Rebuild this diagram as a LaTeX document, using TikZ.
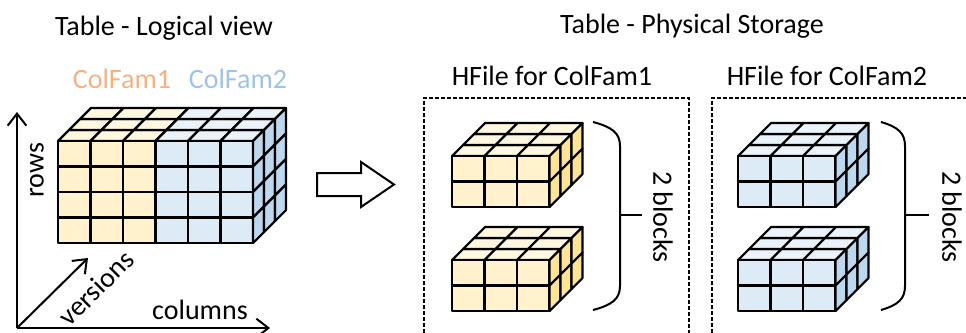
\documentclass[tikz,border=0pt]{standalone}
\usepackage{fontspec}
\setmainfont{Carlito}
\usetikzlibrary{arrows.meta}

\definecolor{yfront}{RGB}{255,242,204}
\definecolor{ytop}{RGB}{255,247,224}
\definecolor{yside}{RGB}{255,228,150}
\definecolor{bfront}{RGB}{221,235,247}
\definecolor{btop}{RGB}{234,242,250}
\definecolor{bside}{RGB}{189,215,238}
\definecolor{famorange}{RGB}{244,177,131}
\definecolor{famblue}{RGB}{157,195,230}

\tikzset{
  cellline/.style={line width=1.6pt, line join=round},
  lbl/.style={font=\fontsize{21}{25}\selectfont, inner sep=0.75pt},
  axisline/.style={line width=1.5pt, -{Straight Barb[length=9pt,width=14pt,line width=1.5pt]}},
  hfilebox/.style={line width=1.2pt, dash pattern=on 3pt off 1.5pt},
  bracket/.style={line width=1.5pt},
}

% block of cells: #1,#2 front top-left, #3 columns, #4 rows, #5 front, #6 top, #7 side
\newcommand{\cellblock}[7]{%
  % top faces
  \foreach \i in {1,...,#3} {
    \foreach \k in {1,2,3} {
      \draw[cellline, fill=#6] ({#1+(\i-1)*32.5+(\k-1)*11},{#2-(\k-1)*11}) -- ++(32.5,0) -- ++(11,-11) -- ++(-32.5,0) -- cycle;
    }
  }
  % front faces
  \foreach \i in {1,...,#3} {
    \foreach \j in {1,...,#4} {
      \draw[cellline, fill=#5] ({#1+(\i-1)*32.5},{#2+(\j-1)*25.5}) rectangle ++(32.5,25.5);
    }
  }
  % side faces
  \foreach \k in {1,2,3} {
    \foreach \j in {1,...,#4} {
      \draw[cellline, fill=#7] ({#1+#3*32.5+(\k-1)*11},{#2+(\j-1)*25.5-(\k-1)*11}) -- ++(11,-11) -- ++(0,25.5) -- ++(-11,11) -- cycle;
    }
  }
}

\begin{document}
\begin{tikzpicture}[x=0.75pt,y=0.75pt,yscale=-1,xscale=1]
 \useasboundingbox (0,0) rectangle (966,332);

 % Logical view
 \node[lbl, anchor=base] (logtitle) at (164,35) {Table - Logical view};
 \node[lbl, anchor=base, text=famorange] (fam1) at (122,88) {ColFam1};
 \node[lbl, anchor=base, text=famblue] (fam2) at (238,88) {ColFam2};

 \cellblock{58}{141}{3}{4}{yfront}{ytop}{yside}
 \cellblock{155.5}{141}{3}{4}{bfront}{btop}{bside}

 % axes
 \coordinate (origin) at (17,328);
 \coordinate (rowsend) at (17,112);
 \coordinate (colsend) at (270,328);
 \coordinate (versend) at (88,258);
 \draw[axisline] (origin) -- (rowsend);
 \draw[axisline] (origin) -- (colsend);
 \draw[axisline] (origin) -- (versend);
 \node[lbl, rotate=90] (rows) at (37,170) {rows};
 \node[lbl, rotate=45] (versions) at (96,288) {versions};
 \node[lbl, anchor=base] (columns) at (200,319) {columns};

 % Block arrow
 \draw[line width=1.5pt, line join=miter, fill=white] (317,173) -- (361,173) -- (361,162) -- (394,184.5) -- (361,207) -- (361,196) -- (317,196) -- cycle;

 % Physical storage
 \node[lbl, anchor=base] (phystitle) at (692,33) {Table - Physical Storage};
 \node[lbl, anchor=base] (hfile1) at (552,85) {HFile for ColFam1};
 \node[lbl, anchor=base] (hfile2) at (827,85) {HFile for ColFam2};

 \draw[hfilebox] (424,345) -- (424,98) -- (689,98) -- (689,345);
 \draw[hfilebox] (712,345) -- (712,98) -- (990,98);

 \cellblock{452}{156}{3}{2}{yfront}{ytop}{yside}
 \cellblock{452}{260}{3}{2}{yfront}{ytop}{yside}
 \cellblock{738}{156}{3}{2}{bfront}{btop}{bside}
 \cellblock{738}{260}{3}{2}{bfront}{btop}{bside}

 % brackets
 \draw[bracket] (593,122) .. controls (612,127) and (620,133) .. (620,146) -- (620,286) .. controls (620,299) and (612,305) .. (593,310);
 \draw[bracket] (620,215) -- (642,215);
 \node[lbl, rotate=-90] (blocks1) at (663,217) {2 blocks};

 \draw[bracket] (881,122) .. controls (898,127) and (905,133) .. (905,146) -- (905,286) .. controls (905,299) and (898,305) .. (881,310);
 \draw[bracket] (905,215) -- (929,215);
 \node[lbl, rotate=-90] (blocks2) at (952,217) {2 blocks};

\end{tikzpicture}
\end{document}
